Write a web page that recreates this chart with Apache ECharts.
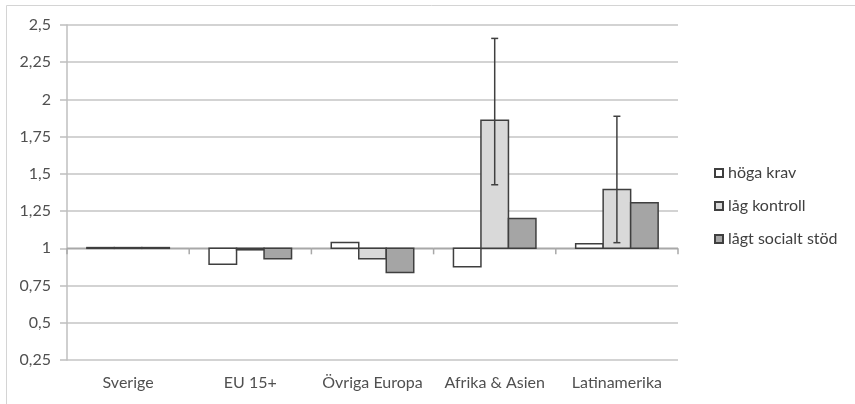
<!DOCTYPE html>
<html>
<head>
<meta charset="utf-8">
<script src="https://cdn.jsdelivr.net/npm/echarts@6/dist/echarts.min.js"></script>
<style>html,body{margin:0;padding:0;background:#fff}#c{width:855px;height:404px}</style>
</head>
<body>
<div id="c"></div>
<script>
var categories = ['Sverige', 'EU 15+', 'Övriga Europa', 'Afrika & Asien', 'Latinamerika'];
var seriesNames = ['höga krav', 'låg kontroll', 'lågt socialt stöd'];
var hogaKrav = [1.005, 0.893, 1.04, 0.877, 1.03];
var lagKontroll = [1.005, 0.99, 0.93, 1.86, 1.395];
var lagtSocialtStod = [1.005, 0.93, 0.838, 1.20, 1.306];
// error bars on 'låg kontroll': [categoryIndex, low, high]
var errorBars = [[3, 1.427, 2.41], [4, 1.038, 1.887]];
var yTicks = { min: 0.25, max: 2.5, interval: 0.25 };
var baseValue = 1;

var fills = ['#ffffff', '#d9d9d9', '#a5a5a5'];
var strokeCol = '#3f3f3f';
var fontFam = 'Lato, "Liberation Sans", sans-serif';
var fs = 16;

function barSeries(name, values, sIdx) {
  return {
    type: 'custom',
    name: name,
    itemStyle: { color: fills[sIdx], borderColor: strokeCol, borderWidth: 1 },
    data: values.map(function (v, i) { return [i, v]; }),
    encode: { x: 0, y: 1 },
    z: 3,
    renderItem: function (params, api) {
      var i = api.value(0), v = api.value(1);
      var band = api.size([1, 0])[0];
      var bw = band * 0.225;
      var cx = api.coord([i, baseValue])[0] + (sIdx - 1) * bw;
      var y0 = api.coord([i, baseValue])[1];
      var y1 = api.coord([i, v])[1];
      return {
        type: 'rect',
        shape: { x: cx - bw / 2, y: Math.min(y0, y1), width: bw, height: Math.abs(y1 - y0) },
        style: { fill: fills[sIdx], stroke: strokeCol, lineWidth: 1.5 }
      };
    }
  };
}

var chart = echarts.init(document.getElementById('c'));
var option = {
  backgroundColor: '#ffffff',
  animation: false,
  graphic: [{
    type: 'rect', shape: { x: 6.5, y: 5.5, width: 900, height: 500 },
    style: { fill: 'none', stroke: '#d4d4d4', lineWidth: 1 }, silent: true, z: -1
  }],
  grid: { left: 67, right: 177, top: 25, bottom: 44 },
  legend: {
    orient: 'vertical', left: 709, top: 159,
    data: seriesNames,
    icon: 'rect', itemWidth: 8, itemHeight: 8, itemGap: 15,
    textStyle: { color: '#404040', fontSize: fs, fontFamily: fontFam, lineHeight: 18 }
  },
  xAxis: {
    type: 'category', data: categories,
    axisLine: { show: false }, axisTick: { show: false },
    axisLabel: { color: '#505050', fontSize: fs, fontFamily: fontFam, margin: 15, interval: 0 }
  },
  yAxis: {
    type: 'value', min: yTicks.min, max: yTicks.max, interval: yTicks.interval,
    axisLine: { show: true, lineStyle: { color: '#bfbfbf', width: 1.5 } },
    axisTick: { show: true, length: 7, lineStyle: { color: '#bfbfbf', width: 1.5 } },
    axisLabel: {
      color: '#505050', fontSize: fs, fontFamily: fontFam, margin: 16,
      formatter: function (v) { return String(Math.round(v * 100) / 100).replace('.', ','); }
    },
    splitLine: { show: true, lineStyle: { color: '#c4c4c4', width: 1.5 } }
  },
  series: [
    {
      type: 'custom', name: 'baseline', z: 2, silent: true,
      data: categories.map(function (c, i) { return [i, baseValue]; }),
      encode: { x: 0, y: 1 },
      renderItem: function (params, api) {
        var i = api.value(0);
        var c = api.coord([i, baseValue]);
        var half = api.size([1, 0])[0] / 2;
        var xl = c[0] - half, xr = c[0] + half, y = c[1];
        var st = { stroke: '#a8a8a8', lineWidth: 1.5 };
        var ch = [
          { type: 'line', shape: { x1: xl, y1: y, x2: xr, y2: y }, style: st },
          { type: 'line', shape: { x1: xl, y1: y, x2: xl, y2: y + 6 }, style: st }
        ];
        if (i === categories.length - 1) {
          ch.push({ type: 'line', shape: { x1: xr, y1: y, x2: xr, y2: y + 6 }, style: st });
        }
        return { type: 'group', children: ch };
      }
    },
    barSeries(seriesNames[0], hogaKrav, 0),
    barSeries(seriesNames[1], lagKontroll, 1),
    barSeries(seriesNames[2], lagtSocialtStod, 2),
    {
      type: 'custom', name: 'err', z: 5,
      data: errorBars,
      encode: { x: 0, y: [1, 2] },
      renderItem: function (params, api) {
        var i = api.value(0);
        var lo = api.coord([i, api.value(1)]);
        var hi = api.coord([i, api.value(2)]);
        var x = lo[0], c = 3.5;
        var st = { stroke: '#404040', lineWidth: 1.5 };
        return {
          type: 'group', children: [
            { type: 'line', shape: { x1: x, y1: lo[1], x2: x, y2: hi[1] }, style: st },
            { type: 'line', shape: { x1: x - c, y1: lo[1], x2: x + c, y2: lo[1] }, style: st },
            { type: 'line', shape: { x1: x - c, y1: hi[1], x2: x + c, y2: hi[1] }, style: st }
          ]
        };
      }
    }
  ]
};
chart.setOption(option);
</script>
</body>
</html>
